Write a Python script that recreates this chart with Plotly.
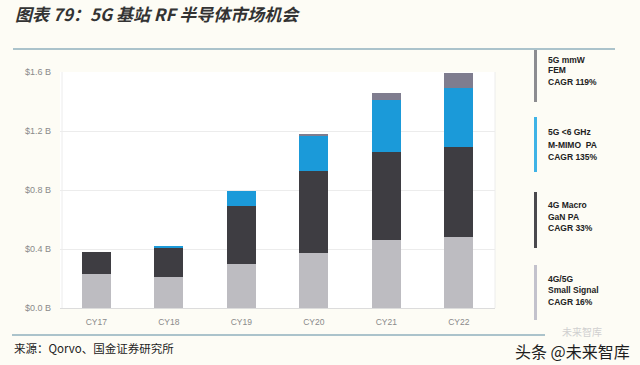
import plotly.graph_objects as go

categories = ["CY17", "CY18", "CY19", "CY20", "CY21", "CY22"]
small_signal = [0.23, 0.21, 0.30, 0.37, 0.46, 0.48]
macro_gan = [0.15, 0.20, 0.39, 0.56, 0.60, 0.61]
mimo_pa = [0.00, 0.01, 0.10, 0.24, 0.35, 0.40]
mmw_fem = [0.00, 0.00, 0.00, 0.01, 0.05, 0.10]
y_ticks = [0, 0.4, 0.8, 1.2, 1.6]
y_tick_labels = ["$0.0 B", "$0.4 B", "$0.8 B", "$1.2 B", "$1.6 B"]

series = [
    ("4G/5G Small Signal", small_signal, "#bdbcc1"),
    ("4G Macro GaN PA", macro_gan, "#3e3d42"),
    ("5G <6 GHz M-MIMO PA", mimo_pa, "#1b9ad9"),
    ("5G mmW FEM", mmw_fem, "#7f7d8f"),
]
legend_groups = [
    (["5G mmW", "FEM", "CAGR 119%"], "#8c8c90", (50, 102), [60, 70, 82]),
    (["5G <6 GHz", "M-MIMO  PA", "CAGR 135%"], "#3fb3e6", (117, 172), [132, 145, 157]),
    (["4G Macro", "GaN PA", "CAGR 33%"], "#4a494d", (192, 248), [205, 217, 228]),
    (["4G/5G", "Small Signal", "CAGR 16%"], "#c3c2cc", (265, 320), [279, 290, 302]),
]

W, H = 640, 365
L, R, T, B = 60, 145, 72, 57
PW, PH = W - L - R, H - T - B


def px(x):
    return (x - L) / PW


def py(y):
    return (H - B - y) / PH


fig = go.Figure()
for name, vals, color in series:
    fig.add_trace(go.Bar(x=categories, y=vals, name=name, marker_color=color,
                         marker_line_width=0))

shapes = []
annotations = []
# top and bottom rules
shapes.append(dict(type="line", xref="paper", yref="paper", x0=px(13), x1=px(615),
                   y0=py(49), y1=py(49), line=dict(color="#8fb0bd", width=1.3)))
shapes.append(dict(type="line", xref="paper", yref="paper", x0=px(12), x1=px(545),
                   y0=py(335), y1=py(335), line=dict(color="#8fb0bd", width=1.3)))
# plot frame sides
for xx in (L + 2, L + PW):
    shapes.append(dict(type="line", xref="paper", yref="paper", x0=px(xx), x1=px(xx),
                       y0=0, y1=1, line=dict(color="#ececec", width=1)))

for lines, color, (y0, y1), ys in legend_groups:
    shapes.append(dict(type="rect", xref="paper", yref="paper", x0=px(534), x1=px(537),
                       y0=py(y1), y1=py(y0), fillcolor=color, line=dict(width=0)))
    for txt, yy in zip(lines, ys):
        annotations.append(dict(text="<b>" + txt + "</b>", xref="paper", yref="paper",
                                x=px(546), y=py(yy), xanchor="left", yanchor="middle",
                                showarrow=False,
                                font=dict(family="Liberation Sans", size=8.5, color="#222222")))

annotations.append(dict(text="<b><i>图表 79：5G 基站 RF 半导体市场机会</i></b>", xref="paper",
                        yref="paper", x=px(13), y=py(13), xanchor="left", yanchor="middle",
                        showarrow=False,
                        font=dict(family="Noto Sans CJK SC", size=17, color="#333333")))
annotations.append(dict(text="来源：Qorvo、国金证券研究所", xref="paper", yref="paper",
                        x=px(12), y=py(348), xanchor="left", yanchor="middle",
                        showarrow=False,
                        font=dict(family="Noto Sans CJK SC", size=11.5, color="#222222")))
annotations.append(dict(text="未来智库", xref="paper", yref="paper",
                        x=px(582), y=py(331), xanchor="center", yanchor="middle",
                        showarrow=False,
                        font=dict(family="Noto Sans CJK SC", size=10, color="#d0d0d0")))
annotations.append(dict(text="头条 @未来智库", xref="paper", yref="paper",
                        x=px(572), y=py(351), xanchor="center", yanchor="middle",
                        showarrow=False,
                        font=dict(family="Noto Sans CJK SC", size=16, color="#1e1e1e")))

fig.update_layout(
    width=W, height=H,
    margin=dict(l=L, r=R, t=T, b=B),
    barmode="stack",
    bargap=0.6,
    showlegend=False,
    paper_bgcolor="#fdfcf5",
    plot_bgcolor="#ffffff",
    shapes=shapes,
    annotations=annotations,
    font=dict(family="Liberation Sans"),
)
fig.update_xaxes(showgrid=False, showline=True, linecolor="#dcdcdc", linewidth=1,
                 ticks="", tickfont=dict(size=8.5, color="#8a8a8a"), ticklabelstandoff=6)
fig.update_yaxes(range=[0, 1.6], tickvals=y_ticks, ticktext=y_tick_labels,
                 showgrid=True, gridcolor="#ececec", gridwidth=1, zeroline=False,
                 ticks="", ticklabelstandoff=8,
                 tickfont=dict(size=9, color="#8a8a8a", family="Liberation Sans"))

fig.write_html("out.html", config={"displayModeBar": False},
               post_script="document.body.style.margin='0';document.body.style.overflow='hidden';")
